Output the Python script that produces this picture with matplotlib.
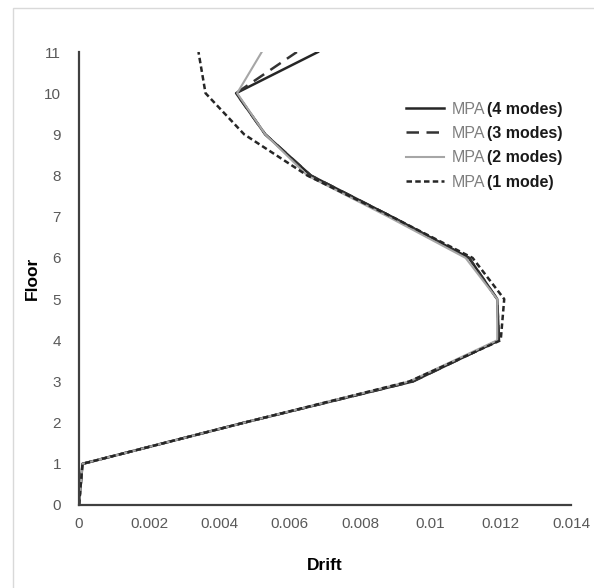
import matplotlib.pyplot as plt
from matplotlib.patches import Rectangle

# storey drift profiles
floors = [0, 1, 2, 3, 4, 5, 6, 7, 8, 9, 10, 11]
drift_4modes = [0, 0.0001, 0.0047, 0.0095, 0.01195, 0.0119, 0.0111, 0.0089, 0.0066, 0.0053, 0.00447, 0.0068]
drift_3modes = [0, 0.0001, 0.0047, 0.0095, 0.01195, 0.0119, 0.0111, 0.0089, 0.0066, 0.0053, 0.00447, 0.0062]
drift_2modes = [0, 0.0001, 0.0047, 0.0094, 0.0119, 0.0119, 0.0110, 0.0088, 0.0065, 0.0053, 0.0045, 0.0052]
drift_1mode = [0, 0.0001, 0.0047, 0.0094, 0.0120, 0.0121, 0.0112, 0.0089, 0.0065, 0.0047, 0.0036, 0.0034]
labels = ["(4 modes)", "(3 modes)", "(2 modes)", "(1 mode)"]
x_ticks = [0, 0.002, 0.004, 0.006, 0.008, 0.01, 0.012, 0.014]
x_tick_labels = ["0", "0.002", "0.004", "0.006", "0.008", "0.01", "0.012", "0.014"]

plt.rcParams['font.family'] = ['Liberation Sans', 'DejaVu Sans']

fig = plt.figure(figsize=(5.94, 5.88), dpi=100)
fig.patches.append(Rectangle((13 / 594, -0.01), 1.0, 1 - 8 / 588 + 0.01,
                             transform=fig.transFigure, fill=False,
                             edgecolor='#d9d9d9', linewidth=1))
ax = fig.add_axes([79 / 594, 1 - 505 / 588, 492 / 594, 453 / 588])

ax.plot(drift_4modes, floors, color='#262626', lw=1.8, label=labels[0])
ax.plot(drift_3modes, floors, color='#333333', lw=1.8, ls=(0, (5, 3)), label=labels[1])
ax.plot(drift_2modes, floors, color='#a6a6a6', lw=1.5, label=labels[2])
ax.plot(drift_1mode, floors, color='#262626', lw=1.8, ls=(0, (2.2, 1.3)), label=labels[3])

ax.set_xlim(0, 0.014)
ax.set_ylim(0, 11)
ax.set_xticks(x_ticks)
ax.set_xticklabels(x_tick_labels)
ax.set_yticks(floors)
ax.tick_params(length=0, labelsize=11, labelcolor='#595959')
ax.tick_params(axis='y', pad=13)
ax.tick_params(axis='x', pad=9)
for s in ['top', 'right']:
    ax.spines[s].set_visible(False)
for s in ['left', 'bottom']:
    ax.spines[s].set_color('#404040')
    ax.spines[s].set_linewidth(1.6)

ax.set_xlabel("Drift", fontsize=12.5, fontweight='bold', labelpad=19)
ax.set_ylabel("Floor", fontsize=12.5, fontweight='bold', labelpad=3)

# legend: gray "MPA" then bold black mode count
handles, _ = ax.get_legend_handles_labels()
leg = ax.legend(handles, ["MPA"] * 4, loc='upper left', bbox_to_anchor=(0.635, 0.922),
                frameon=False, handlelength=2.4, handletextpad=0.45,
                labelspacing=0.58, fontsize=11.5)
for txt in leg.get_texts():
    txt.set_color('#7f7f7f')
fig.canvas.draw()
for txt, lab in zip(leg.get_texts(), labels):
    ax.annotate(lab, xy=(1, 0), xycoords=txt, xytext=(1.5, 0), textcoords='offset points',
                va='bottom', ha='left', fontsize=11.5, fontweight='bold',
                color='#1a1a1a', zorder=10)

plt.savefig("out.png", dpi=100)
